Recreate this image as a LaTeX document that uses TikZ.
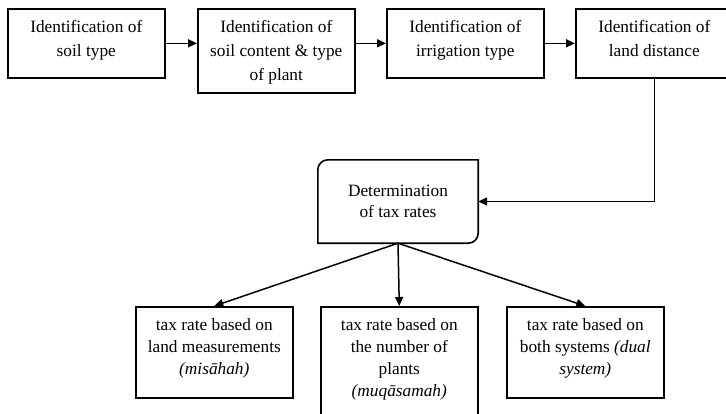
\documentclass[tikz,border=0pt]{standalone}
\usepackage{fontspec}
\setmainfont{Liberation Serif}
\usetikzlibrary{arrows.meta}
% box text: height, baselineskip, lines
\newcommand{\stagetext}[3]{\parbox[c][#1][t]{157pt}{\centering\fontsize{17.3pt}{#2}\selectfont\rule{0pt}{24pt}#3}}
\tikzset{
  stagebox/.style={draw, line width=1.6pt, inner sep=0pt, anchor=north west},
  flow/.style={line width=1.5pt, -{Triangle[length=9pt,width=8pt]}}
}
\begin{document}
\begin{tikzpicture}[x=1pt,y=-1pt]
\useasboundingbox (0,0) rectangle (726,413);
% identification steps
\node[stagebox] (soil) at (7,8) {\stagetext{69pt}{24pt}{Identification of\\soil type}};
\node[stagebox] (content) at (197,8) {\stagetext{84pt}{24pt}{Identification of\\soil content \& type\\of plant}};
\node[stagebox] (irrig) at (386,8) {\stagetext{69pt}{24pt}{Identification of\\irrigation type}};
\node[stagebox] (dist) at (575,8) {\stagetext{69pt}{24pt}{Identification of\\land distance}};
% determination
\node[align=center, minimum width=160pt, minimum height=83pt, inner sep=0pt,
  font=\fontsize{17.3pt}{21pt}\selectfont] (det) at (398,201.5) {Determination\\of tax rates};
\draw[line width=1.6pt] (det.south west) -- ([yshift=-10pt]det.north west)
  arc[start angle=180, end angle=90, radius=10pt] -- (det.north east)
  -- ([yshift=10pt]det.south east) arc[start angle=0, end angle=-90, radius=10pt] -- cycle;
% tax rates
\node[stagebox] (misahah) at (135,306) {\stagetext{91pt}{22pt}{tax rate based on\\land measurements\\\textit{(misāhah)}}};
\node[stagebox] (muqasamah) at (320,306) {\stagetext{113pt}{22pt}{tax rate based on\\the number of\\plants\\\textit{(muqāsamah)}}};
\node[stagebox] (dual) at (506,306) {\stagetext{91pt}{22pt}{tax rate based on\\both systems \textit{(dual}\\\textit{system)}}};
% connectors
\draw[flow] (soil.east) -- (soil.east -| content.west);
\draw[flow] (irrig.west -| content.east) -- (irrig.west);
\draw[flow] (irrig.east) -- (dist.west);
\draw[flow] (dist.south) |- (det.east);
\draw[flow] (det.south) -- (misahah.north);
\draw[flow] (det.south) -- (muqasamah.north);
\draw[flow] (det.south) -- (dual.north);
\end{tikzpicture}
\end{document}
